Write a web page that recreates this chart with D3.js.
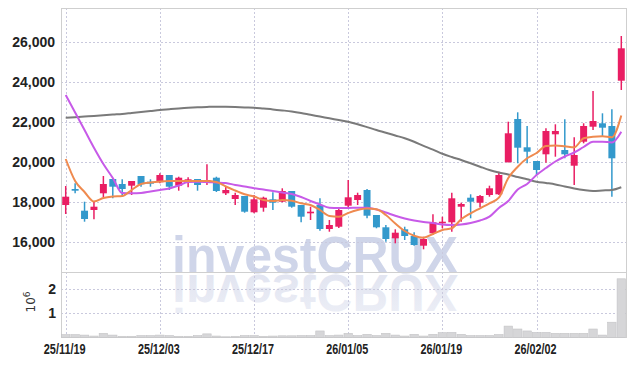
<!DOCTYPE html>
<html>
<head>
<meta charset="utf-8">
<script src="https://cdn.jsdelivr.net/npm/d3@7"></script>
<style>
  html, body { margin: 0; padding: 0; background: #fff; }
  svg { display: block; }
  .tick-label { font-family: "Liberation Sans Narrow", "Arial Narrow", sans-serif; font-weight: bold; fill: #222; }
</style>
</head>
<body>
<svg id="chart" width="634" height="366"></svg>
<script>
// trading days shown (yy/mm/dd)
const dates = [
  "25/11/19","25/11/20","25/11/21","25/11/24","25/11/25","25/11/26","25/11/27","25/11/28",
  "25/12/01","25/12/02","25/12/03","25/12/04","25/12/05","25/12/08","25/12/09","25/12/10",
  "25/12/11","25/12/12","25/12/15","25/12/16","25/12/17","25/12/18","25/12/19","25/12/22",
  "25/12/23","25/12/24","25/12/26","25/12/29","25/12/30","26/01/02","26/01/05","26/01/06",
  "26/01/07","26/01/08","26/01/09","26/01/12","26/01/13","26/01/14","26/01/15","26/01/16",
  "26/01/19","26/01/20","26/01/21","26/01/22","26/01/23","26/01/26","26/01/27","26/01/28",
  "26/01/29","26/01/30","26/02/02","26/02/03","26/02/04","26/02/05","26/02/06","26/02/09",
  "26/02/10","26/02/11","26/02/12","26/02/13"
];

const open = [17835,18635,17550,17585,18420,19135,18885,18800,19285,19000,
  18970,19335,18800,18970,19135,18950,19200,18420,18135,18285,
  17470,17700,18120,18000,18535,17835,17420,17835,16635,16750,
  17800,18085,18585,17335,16720,16170,16620,16285,15800,16420,
  16920,16970,17750,18200,17950,18335,18370,19970,22135,20720,
  20035,20370,21370,20585,19800,21000,21750,21920,21785,24050];
const high = [18785,18920,18000,18000,19285,19135,19120,19035,19285,19120,
  19420,19335,19250,19220,19135,19870,19250,18750,18450,18285,
  18335,18250,18470,18670,18535,17835,17750,18170,17085,17685,
  19085,18450,18635,17335,16835,16620,16750,16470,16250,17370,
  17250,18450,17950,18370,18335,18800,19500,22000,22470,21785,
  20035,21670,21870,22120,21220,21920,23535,22420,22620,26285];
const low = [17385,18420,17000,17120,18220,18170,18250,18335,18750,18750,
  18920,18585,18550,18720,18550,18835,18485,18335,17835,17450,
  17420,17500,17585,17970,17700,16970,17085,16550,16500,16685,
  17700,17835,17170,16670,16000,15920,16085,15800,15620,16335,
  16670,16500,17000,17170,17720,18250,18335,19970,19920,19920,
  19335,19950,20250,20170,18835,20920,21585,21250,18250,23585];
const close = [18250,18550,17135,17750,18885,18750,18635,19035,18870,18900,
  19335,18750,19200,19120,18835,19085,18535,18585,18335,17500,
  18120,18200,17950,18535,17750,17250,17500,16635,16835,17585,
  18220,18335,17300,16720,16135,16450,16285,15835,16135,16970,
  17000,18170,17885,18000,18285,18670,19335,21420,20700,20500,
  19585,21535,21535,20370,20335,21785,22035,21700,20170,25670];

// volume in millions of shares
const volume = [0.12,0.12,0.10,0.06,0.17,0.10,0.05,0.05,0.08,0.08,
  0.10,0.08,0.05,0.05,0.08,0.15,0.06,0.03,0.05,0.08,
  0.08,0.05,0.06,0.07,0.07,0.08,0.08,0.27,0.08,0.10,
  0.17,0.08,0.13,0.08,0.17,0.10,0.06,0.13,0.06,0.13,
  0.20,0.21,0.13,0.08,0.08,0.08,0.12,0.47,0.35,0.27,
  0.21,0.21,0.17,0.17,0.17,0.17,0.35,0.10,0.63,2.42];

// moving averages
const ma5 = [20135,19035,18485,18010,18185,18260,18285,18585,18885,18960,
  19010,19035,19035,19035,19035,19035,18985,18760,18560,18370,
  18260,18085,18035,18085,18050,17920,17835,17585,17285,17250,
  17435,17585,17660,17620,17335,16910,16535,16300,16200,16385,
  16585,16670,17120,17420,17670,17920,18200,19185,19750,20170,
  20435,20785,20810,20770,20720,21170,21250,21270,21220,22310];
const ma20 = [23335,22460,21585,20700,19885,19185,18435,18420,18435,18510,
  18585,18660,18810,18985,19000,18985,18960,18935,18835,18760,
  18670,18610,18535,18460,18385,18235,18035,17860,17700,17685,
  17685,17700,17695,17610,17460,17295,17160,17060,16985,16935,
  16860,16835,16860,16935,17060,17250,17685,18035,18610,18885,
  19335,19685,20010,20260,20460,20735,21000,21000,20960,21500];
const ma60 = [22200,22225,22255,22285,22320,22355,22385,22435,22485,22535,
  22585,22625,22665,22700,22725,22740,22750,22745,22730,22710,
  22695,22655,22615,22565,22510,22435,22345,22260,22170,22085,
  21995,21870,21730,21585,21450,21310,21170,20995,20795,20605,
  20400,20235,20085,19920,19750,19585,19460,19360,19235,19120,
  19000,18935,18865,18760,18665,18585,18535,18560,18585,18720];

const priceTicks = [16000, 18000, 20000, 22000, 24000, 26000];
const volumeTicks = [1, 2];
const dateTicks = dates.filter((d, i) => i % 10 === 0);

const svg = d3.select('#chart');
const left = 61, right = 626;
const priceTop = 8, priceBottom = 272, volTop = 272, volBottom = 337.5;

const upColor = "#e91e63", downColor = "#3399cc";

const x = d3.scaleBand().domain(dates).range([left, right]);
const xc = d => x(d) + x.bandwidth() / 2;
const y = d3.scaleLinear().domain([14485, 27685]).range([priceBottom, priceTop]);
const yv = d3.scaleLinear().domain([0, 2.7]).range([volBottom, volTop]);

// fading gradient for the watermark reflection
const grad = svg.append("defs").append("linearGradient")
  .attr("id", "fade").attr("x1", 0).attr("x2", 0).attr("y1", 0).attr("y2", 1);
grad.append("stop").attr("offset", "0%").attr("stop-color", "#eef0f7");
grad.append("stop").attr("offset", "100%").attr("stop-color", "#dfe2ef");

// watermark with its reflection
const wm = svg.append("g")
  .attr("font-family", "Liberation Sans, Arial, sans-serif")
  .attr("font-weight", "bold").attr("font-size", 52);
wm.append("text")
  .attr("x", 172).attr("y", 273)
  .attr("textLength", 286).attr("lengthAdjust", "spacingAndGlyphs")
  .attr("fill", "#cfd5e9")
  .text("investCRUX");
wm.append("text")
  .attr("transform", "translate(0,548) scale(1,-1)")
  .attr("x", 172).attr("y", 273)
  .attr("textLength", 286).attr("lengthAdjust", "spacingAndGlyphs")
  .attr("fill", "url(#fade)")
  .text("investCRUX");
// cover reflection below the volume area
svg.append("rect").attr("x", 0).attr("y", volBottom + 0.5).attr("width", 634).attr("height", 40).attr("fill", "#fff");

// grid
const grid = svg.append("g").attr("stroke", "#c9c9dd").attr("stroke-dasharray", "2,2").attr("stroke-width", 1);
grid.selectAll("line.py").data(priceTicks).enter().append("line")
  .attr("x1", left).attr("x2", right)
  .attr("y1", d => Math.round(y(d)) + 0.5).attr("y2", d => Math.round(y(d)) + 0.5);
grid.selectAll("line.vy").data(volumeTicks).enter().append("line")
  .attr("x1", left).attr("x2", right)
  .attr("y1", d => Math.round(yv(d)) + 0.5).attr("y2", d => Math.round(yv(d)) + 0.5);
grid.selectAll("line.vx").data(dateTicks).enter().append("line")
  .attr("x1", d => Math.round(xc(d)) + 0.5).attr("x2", d => Math.round(xc(d)) + 0.5)
  .attr("y1", priceTop).attr("y2", volBottom);

// frame
svg.append("rect").attr("x", left + 0.5).attr("y", priceTop + 0.5)
  .attr("width", right - left).attr("height", volBottom - priceTop - 0.5)
  .attr("fill", "none").attr("stroke", "#cfcfcf");
svg.append("line").attr("x1", left).attr("x2", right)
  .attr("y1", priceBottom + 0.5).attr("y2", priceBottom + 0.5).attr("stroke", "#cfcfcf");

// volume bars
svg.append("g").selectAll("rect").data(dates).enter().append("rect")
  .attr("x", d => x(d) + 0.5)
  .attr("width", x.bandwidth() - 1)
  .attr("y", (d, i) => yv(volume[i]))
  .attr("height", (d, i) => volBottom - yv(volume[i]))
  .attr("fill", "#d6d6d8").attr("stroke", "#c4c4c6").attr("stroke-width", 0.6);

// candles
const bodyW = x.bandwidth() * 0.74;
const candles = svg.append("g").selectAll("g").data(dates).enter().append("g")
  .attr("fill", (d, i) => close[i] >= open[i] ? upColor : downColor)
  .attr("stroke", (d, i) => close[i] >= open[i] ? upColor : downColor);
candles.append("line")
  .attr("x1", d => xc(d)).attr("x2", d => xc(d))
  .attr("y1", (d, i) => y(high[i])).attr("y2", (d, i) => y(low[i]))
  .attr("stroke-width", 1.5);
candles.append("rect")
  .attr("x", d => xc(d) - bodyW / 2).attr("width", bodyW)
  .attr("y", (d, i) => y(Math.max(open[i], close[i])))
  .attr("height", (d, i) => Math.max(1.5, Math.abs(y(open[i]) - y(close[i]))))
  .attr("stroke", "none");

// moving average lines
const line = d3.line().x((v, i) => xc(dates[i])).y(v => y(v)).curve(d3.curveMonotoneX);
[[ma60, "#7a7a7a"], [ma20, "#c75ae8"], [ma5, "#ef8a4f"]].forEach(([s, c]) => {
  svg.append("path").datum(s).attr("d", line)
    .attr("fill", "none").attr("stroke", c).attr("stroke-width", 2).attr("stroke-linejoin", "round");
});

// axes labels
svg.append("g").selectAll("text").data(priceTicks).enter().append("text")
  .attr("class", "tick-label")
  .attr("x", 55).attr("y", d => y(d)).attr("dy", "0.36em")
  .attr("text-anchor", "end").attr("font-size", 14)
  .text(d => d3.format(",")(d));
svg.append("g").selectAll("text").data(volumeTicks).enter().append("text")
  .attr("class", "tick-label")
  .attr("x", 56).attr("y", d => yv(d)).attr("dy", "0.36em")
  .attr("text-anchor", "end").attr("font-size", 14)
  .text(d => d);
svg.append("g").selectAll("text").data(dateTicks).enter().append("text")
  .attr("class", "tick-label")
  .attr("x", d => xc(d) - 1).attr("y", 354)
  .attr("text-anchor", "middle").attr("font-size", 15)
  .attr("textLength", 42).attr("lengthAdjust", "spacingAndGlyphs")
  .text(d => d);

// 10^6 unit label
const unit = svg.append("text")
  .attr("transform", "translate(35,302) rotate(-90)")
  .attr("text-anchor", "middle")
  .attr("font-family", "DejaVu Sans, sans-serif")
  .attr("font-size", 12).attr("fill", "#333");
unit.append("tspan").text("10");
unit.append("tspan").attr("dy", -5).attr("font-size", 9).text("6");
</script>
</body>
</html>
